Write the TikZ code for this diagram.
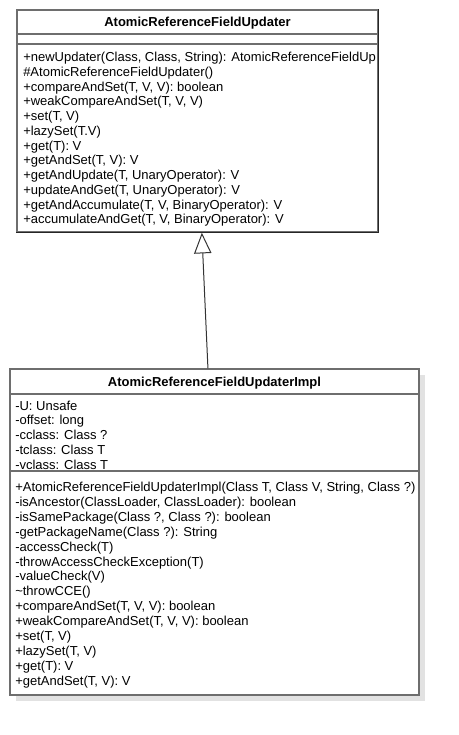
\documentclass[tikz,border=0pt]{standalone}
\usepackage{fontspec}
\setmainfont{Liberation Sans}
\usetikzlibrary{arrows.meta,fit,shadows,calc}
\definecolor{boxline}{HTML}{6E6E6E}
\definecolor{boxshadow}{HTML}{E2E2E2}

\begin{document}
\begin{tikzpicture}[x=0.75pt,y=-0.75pt,
   classbox/.style={draw=boxline, line width=1.1pt, fill=white, inner sep=0pt},
   shaded/.style={drop shadow={shadow xshift=4.5pt, shadow yshift=-4.5pt, fill=boxshadow, opacity=1}},
   classname/.style={font=\fontsize{9.75}{11}\selectfont\bfseries, inner sep=0pt},
   member/.style={anchor=west, font=\fontsize{9.75}{11}\selectfont, inner sep=0pt,
      text height=7.4pt, text depth=2.1pt},
   compartment/.style={draw=boxline, line width=1.1pt},
   generalization/.style={draw=black!80, line width=0.75pt,
      -{Triangle[open, length=15.5pt, width=13pt, fill=white]}}]
   \useasboundingbox (0,0) rectangle (459,735);
   % the two classes
   \node[classbox, fit={(17,10) (378,232)}] (updater) {};
   \node[classbox, shaded, fit={(10,369) (419,695)}] (impl) {};
   \draw[black!85, line width=1.1pt] (updater.north east) -- (updater.south east) -- (updater.south west);
   \draw[compartment] ( 17, 34) -- (378, 34);
   \draw[compartment] ( 17, 44) -- (378, 44);
   \draw[compartment] ( 10,394) -- (419,394);
   \draw[compartment] ( 10,471) -- (419,471);
   \node[classname] (updatername) at (197.5, 23) {AtomicReferenceFieldUpdater};
   \node[classname] (implname)    at (214.5,383) {AtomicReferenceFieldUpdaterImpl};
   % AtomicReferenceFieldUpdater
   \node[member] (u1)  at (23, 58.0) {+newUpdater(Class, Class, String): AtomicReferenceFieldUp};
   \node[member] (u2)  at (23, 72.8) {\#AtomicReferenceFieldUpdater()};
   \node[member] (u3)  at (23, 87.5) {+compareAndSet(T, V, V): boolean};
   \node[member] (u4)  at (23,102.3) {+weakCompareAndSet(T, V, V)};
   \node[member] (u5)  at (23,117.0) {+set(T, V)};
   \node[member] (u6)  at (23,131.8) {+lazySet(T.V)};
   \node[member] (u7)  at (23,146.5) {+get(T): V};
   \node[member] (u8)  at (23,161.3) {+getAndSet(T, V): V};
   \node[member] (u9)  at (23,176.0) {+getAndUpdate(T, UnaryOperator): V};
   \node[member] (u10) at (23,190.8) {+updateAndGet(T, UnaryOperator): V};
   \node[member] (u11) at (23,205.5) {+getAndAccumulate(T, V, BinaryOperator): V};
   \node[member] (u12) at (23,220.3) {+accumulateAndGet(T, V, BinaryOperator): V};
   % AtomicReferenceFieldUpdaterImpl, fields
   \node[member] (f1)  at (15,406.5) {-U: Unsafe};
   \node[member] (f2)  at (15,421.3) {-offset: long};
   \node[member] (f3)  at (15,436.0) {-cclass: Class ?};
   \node[member] (f4)  at (15,450.8) {-tclass: Class T};
   \node[member] (f5)  at (15,465.5) {-vclass: Class T};
   % AtomicReferenceFieldUpdaterImpl, methods
   \node[member] (i1)  at (15,488.0) {+AtomicReferenceFieldUpdaterImpl(Class T, Class V, String, Class ?)};
   \node[member] (i2)  at (15,502.9) {-isAncestor(ClassLoader, ClassLoader): boolean};
   \node[member] (i3)  at (15,517.8) {-isSamePackage(Class ?, Class ?): boolean};
   \node[member] (i4)  at (15,532.7) {-getPackageName(Class ?): String};
   \node[member] (i5)  at (15,547.6) {-accessCheck(T)};
   \node[member] (i6)  at (15,562.5) {-throwAccessCheckException(T)};
   \node[member] (i7)  at (15,577.4) {-valueCheck(V)};
   \node[member] (i8)  at (15,592.3) {\textasciitilde throwCCE()};
   \node[member] (i9)  at (15,607.2) {+compareAndSet(T, V, V): boolean};
   \node[member] (i10) at (15,622.1) {+weakCompareAndSet(T, V, V): boolean};
   \node[member] (i11) at (15,637.0) {+set(T, V)};
   \node[member] (i12) at (15,651.9) {+lazySet(T, V)};
   \node[member] (i13) at (15,666.8) {+get(T): V};
   \node[member] (i14) at (15,681.7) {+getAndSet(T, V): V};
   % inheritance
   \draw[generalization] ($(impl.north west)!0.484!(impl.north east)$)
      -- ($(updater.south west)!0.512!(updater.south east)$);
\end{tikzpicture}
\end{document}
